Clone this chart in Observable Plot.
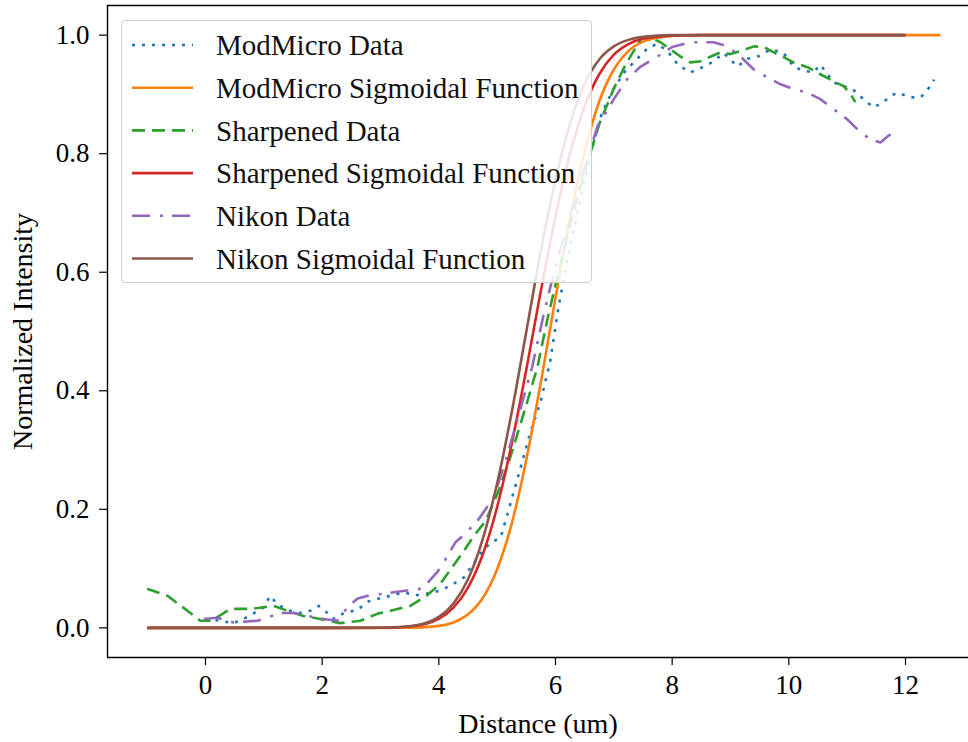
<!DOCTYPE html>
<html>
<head>
<meta charset="utf-8">
<script src="https://cdn.jsdelivr.net/npm/d3@7"></script>
<script src="https://cdn.jsdelivr.net/npm/@observablehq/plot@0.6"></script>
<style>
  body { margin: 0; background: #fff; }
  #wrap { position: relative; width: 968px; height: 742px; font-family: "Liberation Serif", "Times New Roman", serif; }
  #legend { position: absolute; left: 121px; top: 20px; width: 471px; height: 263px;
            border: 1px solid #cfcfcf; border-radius: 4px; background: rgba(255,255,255,0.85); box-sizing: border-box; }
</style>
</head>
<body>
<div id="wrap"><div id="chart"></div><div id="legend"></div></div>
<script>
// ---- data ----
const xTicks = [0, 2, 4, 6, 8, 10, 12];
const yTicks = [0, 0.2, 0.4, 0.6, 0.8, 1.0];
const xDomain = [-1.68, 13.08];
const yDomain = [-0.05, 1.05];

const seriesNames = ["ModMicro Data", "ModMicro Sigmoidal Function", "Sharpened Data",
  "Sharpened Sigmoidal Function", "Nikon Data", "Nikon Sigmoidal Function"];
const seriesColors = ["#1f77b4", "#ff7f0e", "#2ca02c", "#d62728", "#9467bd", "#8c564b"];
const seriesDash = ["3,7", null, "13,7", null, "18,10,3,9", null];

const modDataX = [0, 0.25, 0.48, 0.65, 0.82, 1.0, 1.11, 1.23, 1.4, 1.6, 1.8, 1.94, 2.09, 2.2, 2.37, 2.6, 2.8, 3.0, 3.2, 3.4, 3.6, 3.8, 4.03, 4.25, 4.43, 4.71, 4.89, 5.06, 5.2, 5.4, 5.57, 5.74, 5.91, 6.05, 6.2, 6.4, 6.6, 6.8, 7.0, 7.2, 7.4, 7.6, 7.75, 7.92, 8.1, 8.31, 8.5, 8.7, 8.88, 9.12, 9.29, 9.5, 9.69, 9.91, 10.08, 10.25, 10.42, 10.54, 10.77, 10.94, 11.1, 11.28, 11.45, 11.62, 11.74, 11.86, 12.09, 12.26, 12.38, 12.49];
const modDataY = [0.015, 0.012, 0.008, 0.015, 0.024, 0.035, 0.054, 0.04, 0.03, 0.025, 0.029, 0.037, 0.025, 0.015, 0.025, 0.03, 0.045, 0.05, 0.055, 0.06, 0.055, 0.058, 0.063, 0.074, 0.085, 0.125, 0.144, 0.152, 0.2, 0.27, 0.33, 0.38, 0.45, 0.54, 0.62, 0.71, 0.8, 0.87, 0.91, 0.94, 0.96, 0.98, 0.985, 0.973, 0.95, 0.937, 0.945, 0.955, 0.97, 0.947, 0.96, 0.965, 0.976, 0.97, 0.947, 0.94, 0.937, 0.95, 0.92, 0.914, 0.908, 0.892, 0.878, 0.887, 0.897, 0.903, 0.895, 0.895, 0.908, 0.925];

const sharpDataX = [-1, -0.65, -0.31, -0.09, 0.1, 0.43, 0.77, 1.17, 1.4, 1.68, 1.97, 2.31, 2.66, 2.95, 3.17, 3.51, 3.8, 4.03, 4.25, 4.43, 4.6, 4.8, 5.0, 5.2, 5.45, 5.69, 5.86, 6.05, 6.25, 6.5, 6.75, 7.0, 7.2, 7.46, 7.58, 7.8, 7.97, 8.14, 8.31, 8.49, 8.66, 8.83, 9.0, 9.17, 9.4, 9.57, 9.74, 9.91, 10.08, 10.32, 10.54, 10.77, 10.94, 11.06, 11.14];
const sharpDataY = [0.066, 0.054, 0.029, 0.012, 0.012, 0.032, 0.032, 0.037, 0.029, 0.02, 0.015, 0.008, 0.012, 0.024, 0.029, 0.037, 0.055, 0.075, 0.105, 0.13, 0.155, 0.18, 0.225, 0.28, 0.36, 0.44, 0.52, 0.6, 0.68, 0.77, 0.85, 0.91, 0.95, 0.993, 0.998, 0.988, 0.976, 0.964, 0.954, 0.956, 0.964, 0.971, 0.968, 0.973, 0.981, 0.98, 0.971, 0.963, 0.954, 0.946, 0.934, 0.922, 0.914, 0.9, 0.887];

const nikonDataX = [-0.03, 0.2, 0.48, 0.89, 1.29, 1.51, 1.75, 2.03, 2.26, 2.43, 2.6, 2.78, 3.0, 3.22, 3.46, 3.63, 3.8, 3.98, 4.08, 4.2, 4.29, 4.43, 4.66, 4.94, 5.17, 5.4, 5.6, 5.8, 6.0, 6.2, 6.45, 6.72, 7.0, 7.23, 7.46, 7.75, 8.0, 8.31, 8.71, 8.95, 9.17, 9.4, 9.63, 9.86, 10.08, 10.32, 10.54, 10.77, 11.0, 11.23, 11.4, 11.57, 11.69, 11.86];
const nikonDataY = [0.015, 0.017, 0.009, 0.012, 0.025, 0.025, 0.02, 0.015, 0.012, 0.034, 0.049, 0.054, 0.057, 0.06, 0.063, 0.063, 0.075, 0.095, 0.11, 0.13, 0.145, 0.157, 0.18, 0.22, 0.29, 0.37, 0.44, 0.53, 0.61, 0.68, 0.76, 0.846, 0.892, 0.926, 0.947, 0.964, 0.98, 0.988, 0.988, 0.981, 0.964, 0.942, 0.929, 0.917, 0.909, 0.903, 0.892, 0.875, 0.858, 0.836, 0.824, 0.819, 0.829, 0.841];

const modSigX = [-1, 0, 1, 2, 3, 3.5, 4, 4.25, 4.5, 4.75, 5, 5.25, 5.5, 5.75, 6, 6.25, 6.5, 6.75, 7, 7.25, 7.5, 8, 8.5, 9, 10, 11, 12, 12.6];
const modSigY = [0, 0, 0, 0, 0, 0.0003, 0.0034, 0.0091, 0.0228, 0.050, 0.099, 0.176, 0.284, 0.415, 0.557, 0.691, 0.804, 0.888, 0.942, 0.973, 0.989, 0.9987, 1, 1, 1, 1, 1, 1];

const sharpSigX = [-1, 0, 1, 2, 3, 3.5, 4, 4.25, 4.5, 4.75, 5, 5.25, 5.5, 5.75, 6, 6.25, 6.5, 6.75, 7, 7.25, 7.5, 8, 8.5, 9, 10, 11, 12];
const sharpSigY = [0, 0, 0, 0, 0.0002, 0.0023, 0.0154, 0.034, 0.068, 0.123, 0.204, 0.311, 0.436, 0.569, 0.694, 0.80, 0.880, 0.934, 0.967, 0.985, 0.994, 0.999, 1, 1, 1, 1, 1];

const nikonSigX = [-1, 0, 1, 2, 3, 3.5, 4, 4.25, 4.5, 4.75, 5, 5.25, 5.5, 5.75, 6, 6.25, 6.5, 6.75, 7, 7.25, 7.5, 8, 8.5, 9, 10, 11, 12];
const nikonSigY = [0, 0, 0, 0, 0.0003, 0.0027, 0.0186, 0.041, 0.082, 0.149, 0.244, 0.364, 0.5, 0.636, 0.756, 0.851, 0.918, 0.959, 0.981, 0.992, 0.997, 1, 1, 1, 1, 1, 1];

// ---- build tables ----
const xs = [modDataX, modSigX, sharpDataX, sharpSigX, nikonDataX, nikonSigX];
const ys = [modDataY, modSigY, sharpDataY, sharpSigY, nikonDataY, nikonSigY];
const tables = xs.map((X, i) => X.map((x, j) => ({x, y: ys[i][j], s: seriesNames[i]})));

const lineMarks = tables.map((t, i) => Plot.line(t, {
  x: "x", y: "y",
  stroke: seriesColors[i],
  strokeWidth: 2.6,
  strokeDasharray: seriesDash[i] || undefined,
  curve: (i % 2 === 1) ? "monotone-x" : "linear",
  strokeLinecap: "butt",
  strokeLinejoin: "round"
}));

const chart = Plot.plot({
  width: 968,
  height: 742,
  marginLeft: 107,
  marginRight: 0,
  marginTop: 5,
  marginBottom: 85,
  style: { fontFamily: "'Liberation Serif', 'Times New Roman', serif", fontSize: "27px", color: "#000", background: "#fff", overflow: "visible" },
  x: { domain: xDomain },
  y: { domain: yDomain },
  marks: [
    ...lineMarks,
    Plot.ruleX([xDomain[0]], { stroke: "#000", strokeWidth: 1.4 }),
    Plot.ruleY([yDomain[0], yDomain[1]], { stroke: "#000", strokeWidth: 1.4 }),
    Plot.axisX({ ticks: xTicks, tickSize: 8, tickPadding: 9, tickFormat: d => String(d),
      fontSize: 27, strokeWidth: 1.2, label: null }),
    Plot.axisX({ ticks: [], label: "Distance (um)", labelAnchor: "center", labelOffset: 75, labelArrow: "none",
      fontSize: 28, tickSize: 0 }),
    Plot.axisY({ ticks: yTicks, tickSize: 8, tickPadding: 10, tickFormat: d3.format(".1f"),
      fontSize: 27, strokeWidth: 1.2, label: null }),
    Plot.axisY({ ticks: [], label: "Normalized Intensity", labelAnchor: "center", labelOffset: 95, labelArrow: "none",
      fontSize: 28, tickSize: 0 })
  ]
});
document.getElementById("chart").appendChild(chart);

// ---- legend (inside the plot area, like matplotlib) ----
const legend = d3.select("#legend");
const rowTop = 24, rowStep = 42.7;
const svg = legend.append("svg").attr("width", 469).attr("height", 261)
  .style("position", "absolute").style("left", "0px").style("top", "0px");
seriesNames.forEach((name, i) => {
  const cy = rowTop + i * rowStep;
  svg.append("line").attr("x1", 10).attr("x2", 71).attr("y1", cy).attr("y2", cy)
    .attr("stroke", seriesColors[i]).attr("stroke-width", 2.6)
    .attr("stroke-dasharray", seriesDash[i] || null);
  svg.append("text").attr("x", 94).attr("y", cy).attr("dy", "0.35em")
    .attr("font-family", "'Liberation Serif', 'Times New Roman', serif")
    .attr("font-size", 29).attr("fill", "#111").text(name);
});
</script>
</body>
</html>
